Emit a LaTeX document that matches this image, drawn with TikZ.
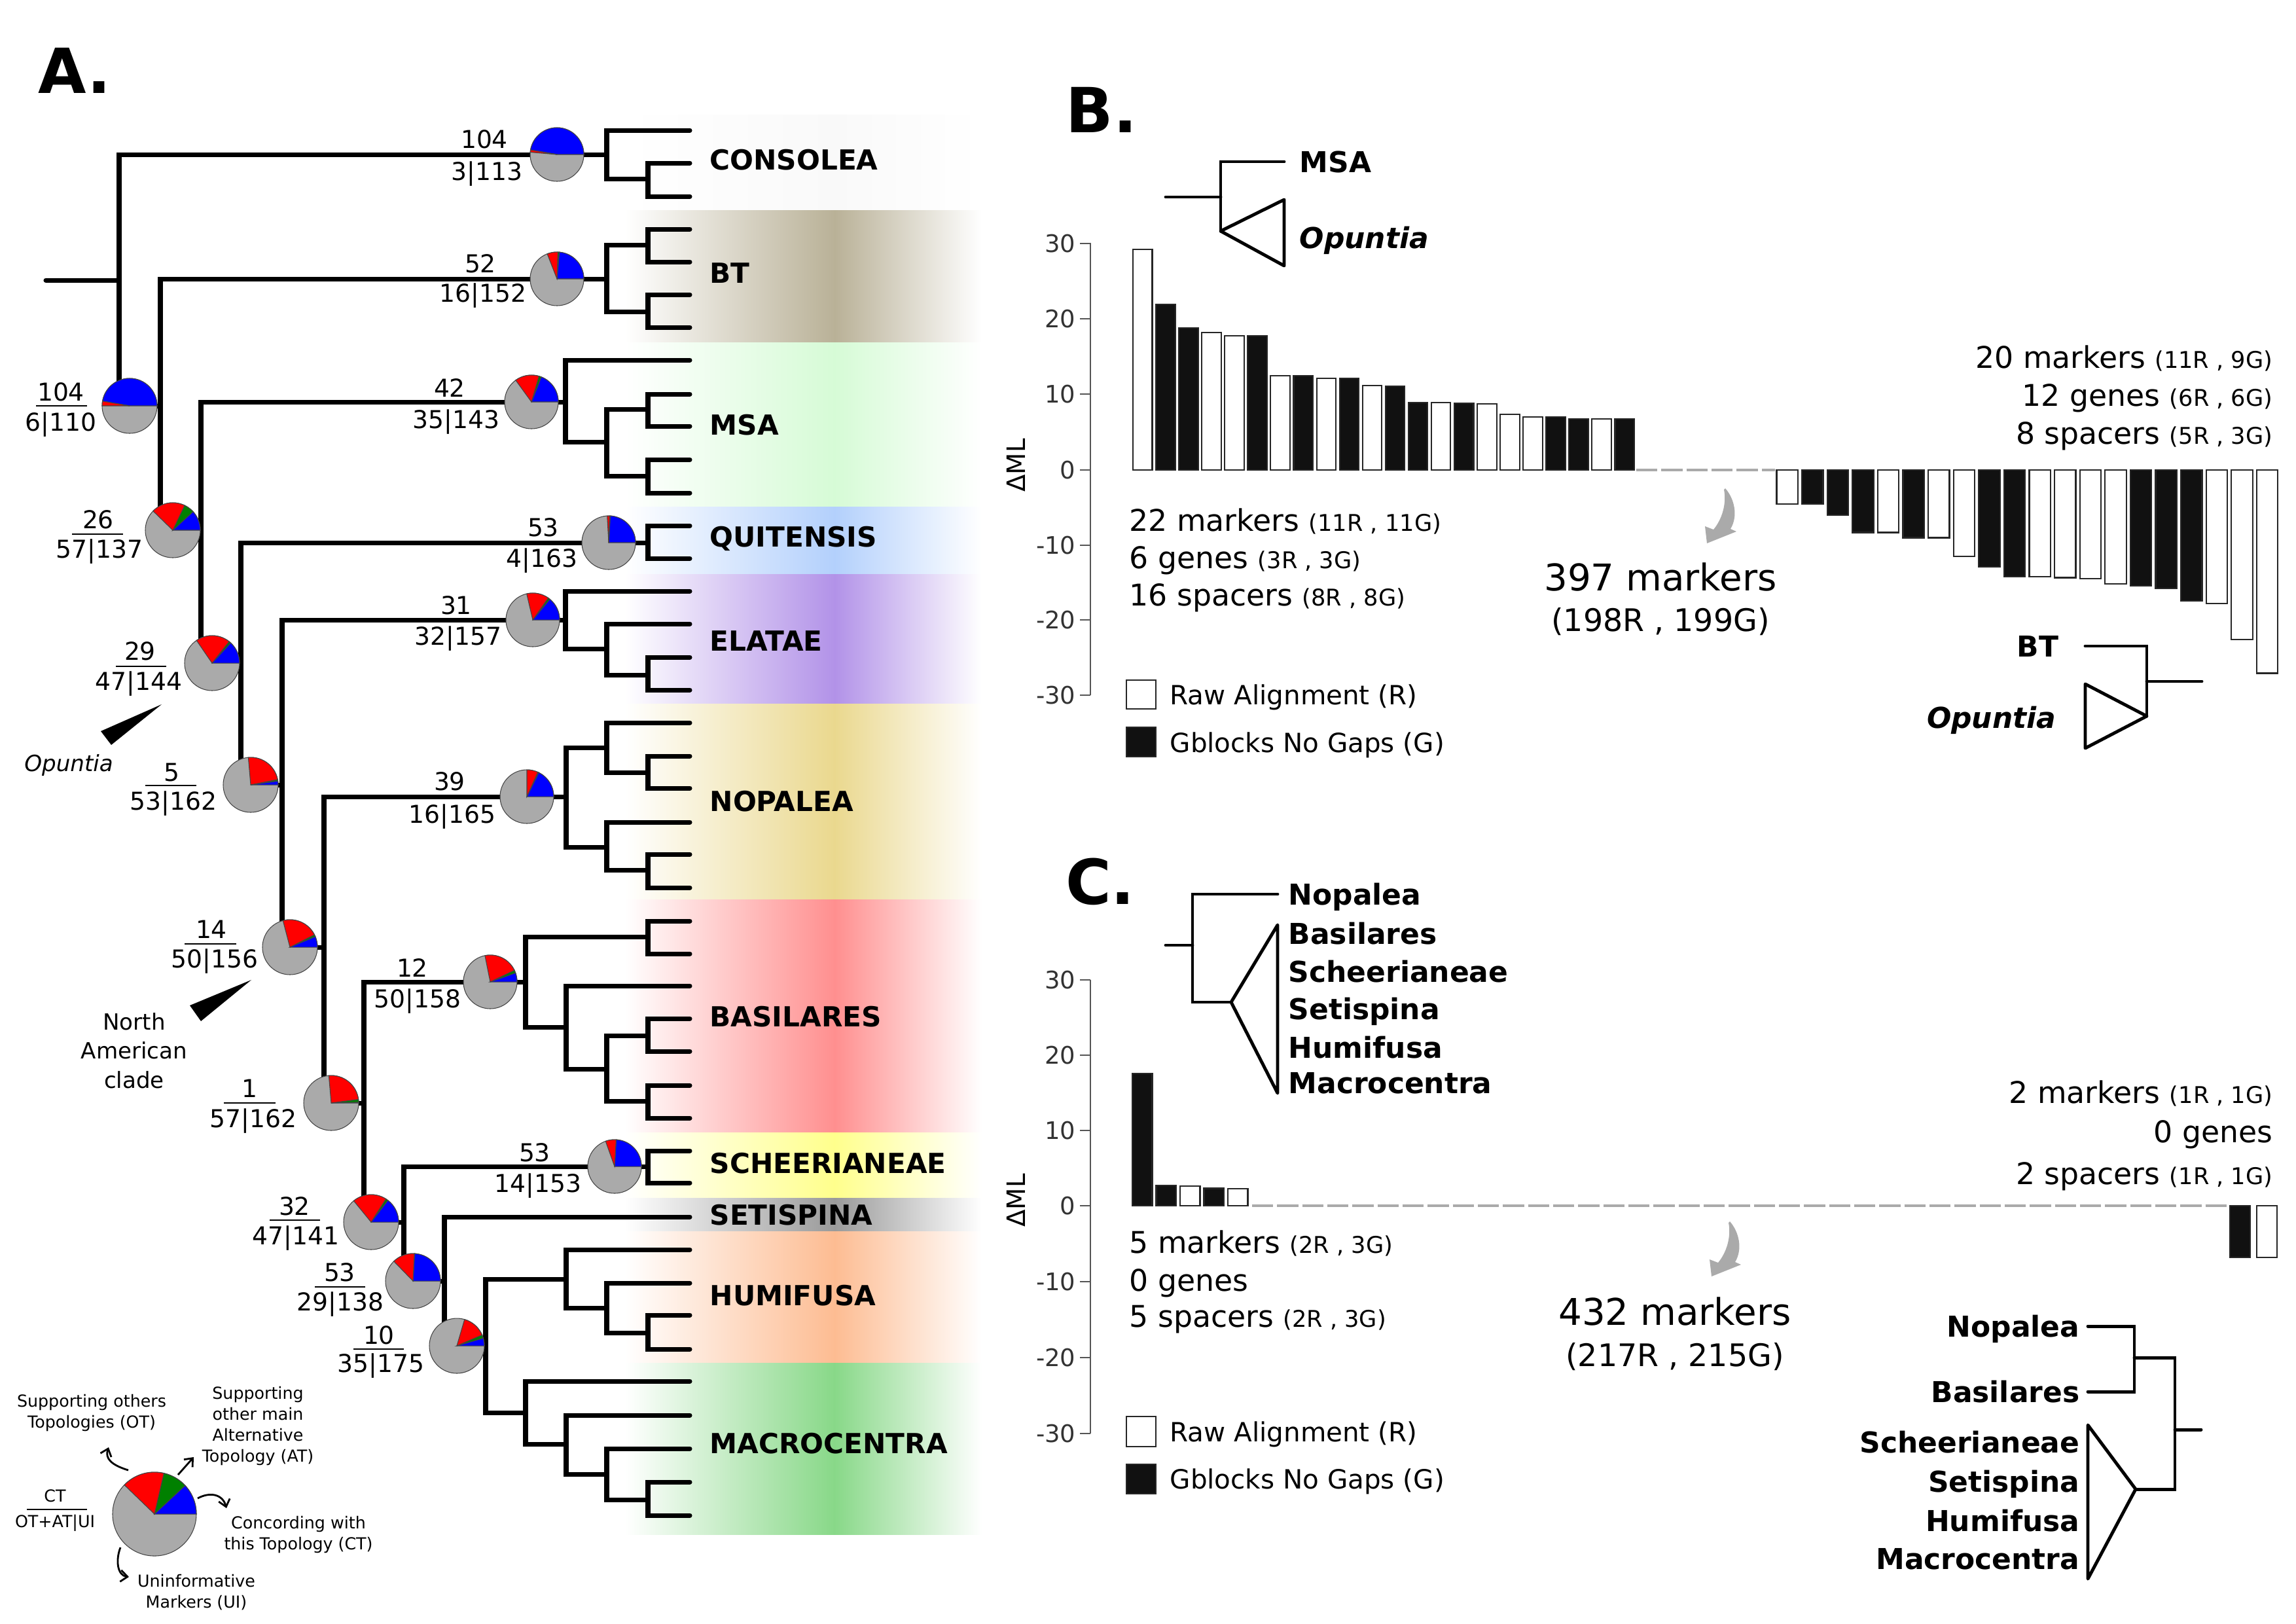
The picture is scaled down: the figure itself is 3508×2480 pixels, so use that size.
\documentclass[tikz,border=0pt]{standalone}
\usepackage{fontspec}
\setmainfont{DejaVu Sans}[ItalicFont={DejaVu Sans Oblique},BoldItalicFont={DejaVu Sans Bold Oblique}]
\usetikzlibrary{arrows.meta}
\definecolor{pieblue}{HTML}{0000FF}
\definecolor{piegreen}{HTML}{008000}
\definecolor{piered}{HTML}{FF0000}
\definecolor{piegray}{HTML}{AAAAAA}
\definecolor{pieedge}{HTML}{444444}
\definecolor{barblack}{HTML}{111111}
\definecolor{arrgray}{HTML}{AAAAAA}
\definecolor{axisgray}{HTML}{555555}
\definecolor{cCON}{HTML}{F9F9F9}
\definecolor{cBT}{HTML}{B9B197}
\definecolor{cMSA}{HTML}{D6FBD6}
\definecolor{cQUI}{HTML}{B3D0FC}
\definecolor{cELA}{HTML}{B292E8}
\definecolor{cNOP}{HTML}{EAD88E}
\definecolor{cBAS}{HTML}{FF8F8F}
\definecolor{cSCH}{HTML}{FFFF8C}
\definecolor{cSET}{HTML}{9A9A9A}
\definecolor{cHUM}{HTML}{FDBC92}
\definecolor{cMAC}{HTML}{88D888}
\newcommand{\fsz}[2]{\fontsize{#1}{#2}\selectfont}
\tikzset{
  br/.style={line width=2pt,line cap=round,line join=miter},
  ibr/.style={line width=1.4pt,line cap=round,line join=miter},
  piewedge/.style={draw=pieedge,line width=0.3pt},
  num/.style={inner sep=0pt,font=\fsz{10.7}{13},text height=7.8pt,text depth=0pt},
  frac/.style={line width=0.8pt},
  clade/.style={anchor=west,inner sep=0pt,font=\bfseries\fsz{12}{14},text height=8.7pt,text depth=0pt},
  leg/.style={inner sep=0pt,font=\fsz{7.2}{9.1},align=center},
  larr/.style={line width=0.8pt,-{Straight Barb[length=3pt,width=5pt]}},
  big/.style={inner sep=0pt,font=\bfseries\fsz{27}{30},text height=19.7pt,text depth=0pt},
  mtxt/.style={inner sep=0pt,font=\fsz{13}{16},text height=9.5pt,text depth=0pt},
  tick/.style={inner sep=0pt,anchor=east,font=\fsz{10.5}{12},text=black!80,text height=7.6pt,text depth=0pt},
  ins/.style={inner sep=0pt,font=\bfseries\fsz{12.5}{14},text height=9.1pt,text depth=0pt},
  legtxt/.style={inner sep=0pt,anchor=west,font=\fsz{11.5}{13},text height=8.4pt,text depth=0pt},
  bar/.style={draw=black!85,line width=0.6pt},
  axis/.style={draw=axisgray,line width=0.8pt},
  zero/.style={draw=arrgray,line width=1.4pt,dash pattern=on 9.2pt off 1.7pt},
}
\newcommand{\piechart}[6]{%
  \begin{scope}[shift={(#1,#2)},yscale=-1]
    \pgfmathsetmacro{\pA}{#4}%
    \pgfmathsetmacro{\pB}{#4+#5}%
    \pgfmathsetmacro{\pC}{#4+#5+#6}%
    \filldraw[piewedge,fill=piegray] (0,0) circle[radius=#3];
    \filldraw[piewedge,fill=pieblue] (0,0) -- (0:#3) arc[start angle=0,end angle=\pA,radius=#3] -- cycle;
    \filldraw[piewedge,fill=piegreen] (0,0) -- (\pA:#3) arc[start angle=\pA,end angle=\pB,radius=#3] -- cycle;
    \filldraw[piewedge,fill=piered] (0,0) -- (\pB:#3) arc[start angle=\pB,end angle=\pC,radius=#3] -- cycle;
  \end{scope}}
\newcommand{\band}[3]{%
  \shade[left color=white,right color=#3] (955,#1) rectangle (1276,#2);
  \shade[left color=#3,right color=white] (1275,#1) rectangle (1500,#2);}
% curved gray arrow, top point at (#1,#2)
\newcommand{\grayarrow}[2]{%
  \begin{scope}[shift={(#1,#2)}]
    \fill[arrgray] (0,0) .. controls (14,16) and (20,42) .. (8,62) -- (17,66) -- (-28,84)
      -- (-31,58) -- (-18,63) .. controls (-4,46) and (2,22) .. (-2,2) -- cycle;
  \end{scope}}
\begin{document}
\begin{tikzpicture}[x=0.01cm,y=-0.01cm]
\useasboundingbox[fill=white] (0,0) rectangle (3508,2480);

% ---------------- bands ----------------
\band{175}{321}{cCON}
\band{321}{523}{cBT}
\band{523}{774}{cMSA}
\band{774}{877}{cQUI}
\band{877}{1075}{cELA}
\band{1075}{1374}{cNOP}
\band{1374}{1730}{cBAS}
\band{1730}{1830}{cSCH}
\band{1830}{1881}{cSET}
\band{1881}{2082}{cHUM}
\band{2082}{2344}{cMAC}

% ---------------- backbone ----------------
\draw[br] (70,428) -- (182,428);
\draw[br] (927,236) -- (182,236) -- (182,620) -- (245,620);
\draw[br] (927,426) -- (245,426) -- (245,810) -- (307,810);
\draw[br] (864,614) -- (307,614) -- (307,1013) -- (368,1013);
\draw[br] (990,829) -- (368,829) -- (368,1199) -- (431,1199);
\draw[br] (864,947) -- (431,947) -- (431,1447) -- (495,1447);
\draw[br] (865,1217) -- (495,1217) -- (495,1685) -- (556,1685);
\draw[br] (803,1500) -- (556,1500) -- (556,1867) -- (617,1867);
\draw[br] (990,1782) -- (617,1782) -- (617,1957) -- (679,1957);
\draw[br] (1054,1859) -- (679,1859) -- (679,2056) -- (742,2056);
\draw[br] (865,1954) -- (742,1954) -- (742,2158) -- (803,2158);

% ---------------- clades ----------------
% CONSOLEA
\draw[br] (1054,199) -- (927,199) -- (927,273) -- (990,273);
\draw[br] (1054,249) -- (990,249) -- (990,300) -- (1054,300);
% BT
\draw[br] (990,374) -- (927,374) -- (927,476) -- (990,476);
\draw[br] (1054,350) -- (990,350) -- (990,400) -- (1054,400);
\draw[br] (1054,450) -- (990,450) -- (990,500) -- (1054,500);
% MSA
\draw[br] (1054,550) -- (864,550) -- (864,675) -- (927,675);
\draw[br] (990,625) -- (927,625) -- (927,727) -- (990,727);
\draw[br] (1054,602) -- (990,602) -- (990,651) -- (1054,651);
\draw[br] (1054,702) -- (990,702) -- (990,753) -- (1054,753);
% QUITENSIS
\draw[br] (1054,803) -- (990,803) -- (990,853) -- (1054,853);
% ELATAE
\draw[br] (1054,903) -- (864,903) -- (864,991) -- (927,991);
\draw[br] (1054,953) -- (927,953) -- (927,1031) -- (990,1031);
\draw[br] (1054,1004) -- (990,1004) -- (990,1054) -- (1054,1054);
% NOPALEA
\draw[br] (927,1142) -- (865,1142) -- (865,1294) -- (927,1294);
\draw[br] (1054,1104) -- (927,1104) -- (927,1180) -- (990,1180);
\draw[br] (1054,1155) -- (990,1155) -- (990,1204) -- (1054,1204);
\draw[br] (1054,1256) -- (927,1256) -- (927,1329) -- (990,1329);
\draw[br] (1054,1305) -- (990,1305) -- (990,1356) -- (1054,1356);
% BASILARES
\draw[br] (990,1431) -- (803,1431) -- (803,1569) -- (865,1569);
\draw[br] (1054,1407) -- (990,1407) -- (990,1457) -- (1054,1457);
\draw[br] (1054,1506) -- (865,1506) -- (865,1633) -- (927,1633);
\draw[br] (990,1582) -- (927,1582) -- (927,1682) -- (990,1682);
\draw[br] (1054,1556) -- (990,1556) -- (990,1606) -- (1054,1606);
\draw[br] (1054,1658) -- (990,1658) -- (990,1708) -- (1054,1708);
% SCHEERIANEAE
\draw[br] (1054,1758) -- (990,1758) -- (990,1807) -- (1054,1807);
% HUMIFUSA
\draw[br] (1054,1909) -- (865,1909) -- (865,1998) -- (927,1998);
\draw[br] (1054,1960) -- (927,1960) -- (927,2036) -- (990,2036);
\draw[br] (1054,2009) -- (990,2009) -- (990,2061) -- (1054,2061);
% MACROCENTRA
\draw[br] (1054,2110) -- (803,2110) -- (803,2206) -- (865,2206);
\draw[br] (1054,2162) -- (865,2162) -- (865,2252) -- (927,2252);
\draw[br] (1054,2213) -- (927,2213) -- (927,2291) -- (990,2291);
\draw[br] (1054,2264) -- (990,2264) -- (990,2315) -- (1054,2315);

% ---------------- clade labels ----------------
\node[clade] (lCON) at (1084,244) {CONSOLEA};
\node[clade] (lBT)  at (1084,417) {BT};
\node[clade] (lMSA) at (1084,649) {MSA};
\node[clade] (lQUI) at (1084,820) {QUITENSIS};
\node[clade] (lELA) at (1084,979) {ELATAE};
\node[clade] (lNOP) at (1084,1224) {NOPALEA};
\node[clade] (lBAS) at (1084,1553) {BASILARES};
\node[clade] (lSCH) at (1084,1777) {SCHEERIANEAE};
\node[clade] (lSET) at (1084,1856) {SETISPINA};
\node[clade] (lHUM) at (1084,1979) {HUMIFUSA};
\node[clade] (lMAC) at (1084,2205) {MACROCENTRA};

% ---------------- pies ----------------
\piechart{851}{236}{41}{170.2}{0}{4.9}
\piechart{851}{426}{41}{85.1}{3}{23.2}
\piechart{198}{620}{42}{170.2}{0}{9.8}
\piechart{812}{614}{41}{68.7}{5}{52.3}
\piechart{264}{810}{42}{42.5}{22}{71.3}
\piechart{930}{829}{41}{86.7}{1.5}{5}
\piechart{324}{1013}{42}{47.5}{4}{72.9}
\piechart{814}{947}{41}{50.7}{4}{48.4}
\piechart{383}{1199}{42}{8.2}{3}{83.7}
\piechart{805}{1217}{41}{63.8}{2}{24.2}
\piechart{443}{1447}{42}{22.9}{4}{77.8}
\piechart{749}{1500}{41}{19.6}{6}{75.8}
\piechart{506}{1685}{42}{1.6}{6}{87.3}
\piechart{939}{1782}{41}{86.7}{0}{22.9}
\piechart{567}{1867}{42}{52.4}{5}{71.9}
\piechart{631}{1957}{42}{86.7}{0.5}{47}
\piechart{698}{2056}{42}{16.4}{7}{50.3}

% ---------------- branch labels ----------------
\node[num] (t1a) at (740,213) {104};  \node[num] (t1b) at (744,262) {3|113};
\node[num] (t2a) at (734,403) {52};   \node[num] (t2b) at (738,448) {16|152};
\node[num] (t3a) at (687,593) {42};   \node[num] (t3b) at (697,641) {35|143};
\node[num] (t4a) at (830,806) {53};   \node[num] (t4b) at (828,853) {4|163};
\node[num] (t5a) at (697,925) {31};   \node[num] (t5b) at (700,972) {32|157};
\node[num] (t6a) at (687,1194) {39};  \node[num] (t6b) at (691,1244) {16|165};
\node[num] (t7a) at (630,1479) {12};  \node[num] (t7b) at (638,1526) {50|158};
\node[num] (t8a) at (817,1761) {53};  \node[num] (t8b) at (822,1808) {14|153};

\node[num] (n1a) at (93,599) {104};  \draw[frac] (55,620) -- (133,620);  \node[num] (n1b) at (93,645) {6|110};
\node[num] (n2a) at (150,794) {26};  \draw[frac] (110,816) -- (188,816); \node[num] (n2b) at (152,839) {57|137};
\node[num] (n3a) at (214,995) {29};  \draw[frac] (177,1018) -- (254,1018); \node[num] (n3b) at (212,1041) {47|144};
\node[num] (n4a) at (262,1180) {5};  \draw[frac] (222,1200) -- (300,1200); \node[num] (n4b) at (265,1224) {53|162};
\node[num] (n5a) at (323,1420) {14}; \draw[frac] (282,1442) -- (361,1442); \node[num] (n5b) at (328,1465) {50|156};
\node[num] (n6a) at (381,1663) {1};  \draw[frac] (342,1685) -- (421,1685); \node[num] (n6b) at (387,1709) {57|162};
\node[num] (n7a) at (450,1843) {32}; \draw[frac] (412,1864) -- (489,1864); \node[num] (n7b) at (452,1888) {47|141};
\node[num] (n8a) at (519,1944) {53}; \draw[frac] (481,1966) -- (558,1966); \node[num] (n8b) at (520,1989) {29|138};
\node[num] (n9a) at (579,2040) {10}; \draw[frac] (540,2061) -- (617,2061); \node[num] (n9b) at (582,2083) {35|175};

% ---------------- clade pointers ----------------
\fill (154,1117) -- (247,1076) -- (170,1138) -- cycle;
\node[inner sep=0pt,font=\itshape\fsz{9.7}{12}] (opA) at (105,1169) {Opuntia};
\fill (290,1536) -- (384,1497) -- (307,1560) -- cycle;
\node[inner sep=0pt,font=\fsz{9.7}{12.6},align=center] (nam) at (205,1605) {North\\American\\clade};

% ---------------- legend of A ----------------
\piechart{236}{2313}{64}{43}{34}{59}
\node[leg] (ctl) at (84,2285) {CT};
\draw[frac] (41,2306) -- (133,2306);
\node[leg] (otl) at (84,2327) {OT+AT|UI};
\node[leg] (lOT) at (140,2158) {Supporting others\\Topologies (OT)};
\node[leg] (lAT) at (394,2178) {Supporting\\other main\\Alternative\\Topology (AT)};
\node[leg] (lCT) at (456,2344) {Concording with\\this Topology (CT)};
\node[leg] (lUI) at (300,2433) {Uninformative\\Markers (UI)};
\coordinate (aOT0) at (196,2246); \coordinate (aOT1) at (166,2211);
\coordinate (aAT0) at (272,2253); \coordinate (aAT1) at (296,2226);
\coordinate (aCT0) at (302,2289); \coordinate (aCT1) at (346,2304);
\coordinate (aUI0) at (184,2364); \coordinate (aUI1) at (197,2409);
\draw[larr] (aOT0) .. controls (170,2238) and (160,2228) .. (aOT1);
\draw[larr] (aAT0) -- (aAT1);
\draw[larr] (aCT0) .. controls (320,2279) and (340,2282) .. (aCT1);
\draw[larr] (aUI0) .. controls (176,2385) and (180,2407) .. (aUI1);

% ---------------- panel letters ----------------
\node[big] (pA) at (114,108) {A.};
\node[big] (pB) at (1683,168) {B.};
\node[big] (pC) at (1681,1347) {C.};

% ================= PANEL B =================
\draw[axis] (1666,371) -- (1666,1062);
\foreach \t/\yy in {30/372,20/487,10/602,0/718,-10/833,-20/947,-30/1062}{
  \draw[axis] (1650,\yy) -- (1666,\yy);
  \node[tick] at (1644,\yy) {\t};
}
\node[inner sep=0pt,rotate=90,font=\fsz{11}{13}] (dmlB) at (1552,711) {ΔML};
\foreach \v/\c [count=\i from 0] in {29.3/white,22/barblack,18.9/barblack,18.3/white,17.8/white,17.8/barblack,12.5/white,12.5/barblack,12.2/white,12.2/barblack,11.2/white,11.1/barblack,8.95/barblack,8.95/white,8.9/barblack,8.8/white,7.4/white,7.05/white,7.05/barblack,6.76/barblack,6.76/white,6.76/barblack}{
  \draw[bar,fill=\c] ({1731+35.07*\i},718) rectangle ++(29.5,{-11.5*\v});
}
\foreach \v/\c [count=\i from 0] in {4.5/white,4.5/barblack,6/barblack,8.3/barblack,8.3/white,9/barblack,9/white,11.5/white,12.9/barblack,14.2/barblack,14.2/white,14.3/white,14.4/white,15.1/white,15.4/barblack,15.7/barblack,17.4/barblack,17.7/white,22.5/white,27/white}{
  \draw[bar,fill=\c] ({2714.5+38.6*\i},718) rectangle ++(32.4,{11.5*\v});
}
\draw[zero] (2500,718) -- (2712,718);
% inset trees B
\draw[ibr] (1781,301) -- (1865,301);
\draw[ibr] (1962,247) -- (1865,247) -- (1865,353);
\draw[ibr,line join=round] (1865,353) -- (1962,305) -- (1962,406) -- cycle;
\node[ins,anchor=west] (bMSA) at (1985,247) {MSA};
\node[ins,anchor=west,font=\bfseries\itshape\fsz{12.5}{14}] (bOp1) at (1985,363) {Opuntia};
\draw[ibr] (3186,987) -- (3280,987) -- (3280,1094);
\draw[ibr] (3280,1041) -- (3364,1041);
\draw[ibr,line join=round] (3280,1094) -- (3186,1045) -- (3186,1143) -- cycle;
\node[ins,anchor=east] (bBT) at (3146,987) {BT};
\node[ins,anchor=east,font=\bfseries\itshape\fsz{12.5}{14}] (bOp2) at (3142,1096) {Opuntia};
% texts B
\node[mtxt,anchor=east] (bR1) at (3473,546) {20 markers {\fsz{10}{12}(11R , 9G)}};
\node[mtxt,anchor=east] (bR2) at (3473,604) {12 genes {\fsz{10}{12}(6R , 6G)}};
\node[mtxt,anchor=east] (bR3) at (3473,662) {8 spacers {\fsz{10}{12}(5R , 3G)}};
\node[mtxt,anchor=west] (bL1) at (1725,795) {22 markers {\fsz{10}{12}(11R , 11G)}};
\node[mtxt,anchor=west] (bL2) at (1725,852) {6 genes {\fsz{10}{12}(3R , 3G)}};
\node[mtxt,anchor=west] (bL3) at (1725,909) {16 spacers {\fsz{10}{12}(8R , 8G)}};
\node[inner sep=0pt,font=\fsz{16}{19},text height=11.7pt,text depth=0pt] (bM1) at (2537,882) {397 markers};
\node[inner sep=0pt,font=\fsz{13.5}{16},text height=9.8pt,text depth=0pt] (bM2) at (2537,947) {(198R , 199G)};
\grayarrow{2636}{746}
% legend B
\draw[bar,fill=white] (1721,1039) rectangle (1766,1083);
\node[legtxt] (bLg1) at (1787,1062) {Raw Alignment (R)};
\draw[bar,fill=barblack] (1721,1111) rectangle (1766,1156);
\node[legtxt] (bLg2) at (1787,1135) {Gblocks No Gaps (G)};

% ================= PANEL C =================
\draw[axis] (1666,1497) -- (1666,2190);
\foreach \t/\yy in {30/1497,20/1612,10/1727,0/1842,-10/1958,-20/2074,-30/2190}{
  \draw[axis] (1650,\yy) -- (1666,\yy);
  \node[tick] at (1644,\yy) {\t};
}
\node[inner sep=0pt,rotate=90,font=\fsz{11}{13}] (dmlC) at (1552,1834) {ΔML};
\foreach \v/\c [count=\i from 0] in {17.5/barblack,2.7/barblack,2.6/white,2.3/barblack,2.25/white}{
  \draw[bar,fill=\c] ({1730+36.5*\i},1842) rectangle ++(30.5,{-11.55*\v});
}
\draw[bar,fill=barblack] (3407,1842) rectangle ++(31,{11.55*6.8});
\draw[bar,fill=white] (3448,1842) rectangle ++(31,{11.55*6.8});
\draw[zero] (1913,1842) -- (3404,1842);
% inset top C
\draw[ibr] (1781,1444) -- (1822,1444);
\draw[ibr] (1952,1366) -- (1822,1366) -- (1822,1531) -- (1881,1531);
\draw[ibr,line join=round] (1881,1531) -- (1952,1413) -- (1952,1670) -- cycle;
\node[ins,anchor=west] (cT1) at (1968,1366) {Nopalea};
\node[ins,anchor=west] (cT2) at (1968,1426) {Basilares};
\node[ins,anchor=west] (cT3) at (1968,1484) {Scheerianeae};
\node[ins,anchor=west] (cT4) at (1968,1541) {Setispina};
\node[ins,anchor=west] (cT5) at (1968,1600) {Humifusa};
\node[ins,anchor=west] (cT6) at (1968,1654) {Macrocentra};
% inset bottom C
\draw[ibr] (3190,2026) -- (3261,2026) -- (3261,2126) -- (3190,2126);
\draw[ibr] (3261,2074) -- (3323,2074) -- (3323,2275) -- (3263,2275);
\draw[ibr] (3323,2184) -- (3363,2184);
\draw[ibr,line join=round] (3263,2275) -- (3190,2177) -- (3190,2412) -- cycle;
\node[ins,anchor=east] (cB1) at (3178,2026) {Nopalea};
\node[ins,anchor=east] (cB2) at (3178,2126) {Basilares};
\node[ins,anchor=east] (cB3) at (3178,2203) {Scheerianeae};
\node[ins,anchor=east] (cB4) at (3178,2263) {Setispina};
\node[ins,anchor=east] (cB5) at (3178,2323) {Humifusa};
\node[ins,anchor=east] (cB6) at (3178,2381) {Macrocentra};
% texts C
\node[mtxt,anchor=east] (cR1) at (3473,1669) {2 markers {\fsz{10}{12}(1R , 1G)}};
\node[mtxt,anchor=east] (cR2) at (3473,1729) {0 genes};
\node[mtxt,anchor=east] (cR3) at (3473,1793) {2 spacers {\fsz{10}{12}(1R , 1G)}};
\node[mtxt,anchor=west] (cL1) at (1725,1898) {5 markers {\fsz{10}{12}(2R , 3G)}};
\node[mtxt,anchor=west] (cL2) at (1725,1956) {0 genes};
\node[mtxt,anchor=west] (cL3) at (1725,2011) {5 spacers {\fsz{10}{12}(2R , 3G)}};
\node[inner sep=0pt,font=\fsz{16}{19},text height=11.7pt,text depth=0pt] (cM1) at (2559,2004) {432 markers};
\node[inner sep=0pt,font=\fsz{13.5}{16},text height=9.8pt,text depth=0pt] (cM2) at (2559,2070) {(217R , 215G)};
\grayarrow{2643}{1866}
% legend C
\draw[bar,fill=white] (1721,2164) rectangle (1766,2210);
\node[legtxt] (cLg1) at (1787,2188) {Raw Alignment (R)};
\draw[bar,fill=barblack] (1721,2237) rectangle (1766,2282);
\node[legtxt] (cLg2) at (1787,2260) {Gblocks No Gaps (G)};
\end{tikzpicture}
\end{document}
